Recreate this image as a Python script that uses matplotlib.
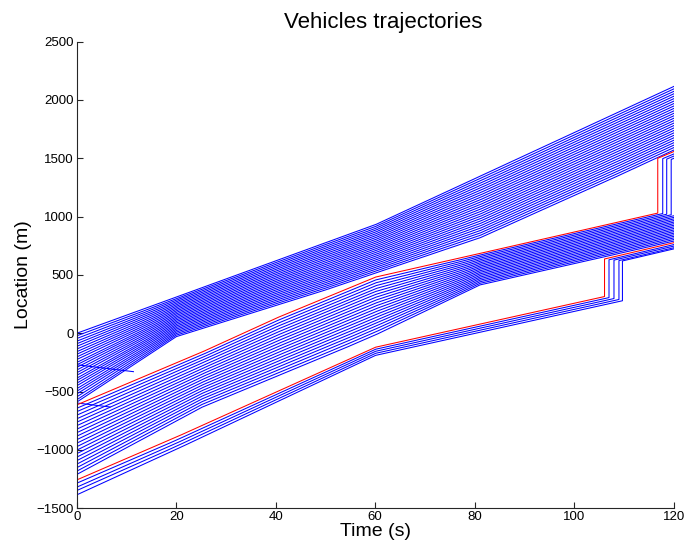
import numpy as np
import matplotlib
matplotlib.use("Agg")
import matplotlib.pyplot as plt

# ---------------- data ----------------
# Top platoon (all blue)
top_start = [0, -22, -45, -68, -90, -112, -135, -158, -180, -203,
             -225, -250, -270, -292, -315, -338, -360, -385, -405, -428,
             -450, -475, -497, -520, -545, -570, -590]
top_conv = 18
top_lead_t = [0, 60, 120]
top_lead_y = [0, 930, 2115]
top_tail_t = [0, 20, 49, 81, 107, 120]
top_tail_y = [-585, -29, 357, 817, 1314, 1570]

# Middle platoon (leader red)
mid_start = [-614, -643, -672, -702, -733, -762, -792, -822, -852, -882,
             -912, -942, -972, -1002, -1032, -1062, -1092, -1122, -1152,
             -1182, -1210]
mid_conv = 25
mid_lead_t = [0, 20, 40, 60, 120]
mid_lead_y = [-614, -262, 128, 481, 1061]
mid_tail_t = [0, 20, 53, 60, 81, 106, 120]
mid_tail_y = [-1215, -725, -143, -15, 414, 655, 790]
mid_jump_t = [116.8, 117.8, 118.6, 119.5]
mid_land_y = [1500, 1497, 1493, 1490]
mid_post_v = 17.8

# Bottom platoon (leader red)
bot_start = [-1257, -1285, -1319, -1348, -1385]
bot_conv = 15
bot_lead_t = [0, 20, 60, 120]
bot_lead_y = [-1257, -890, -120, 446]
bot_tail_t = [0, 20, 60, 120]
bot_tail_y = [-1385, -995, -190, 376]
bot_jump_t = [106.1, 107.0, 108.0, 109.0, 109.7]
bot_land_y = [637, 630, 627, 623, 620]
bot_post_v = 10.0

# short stray segments at the start
stray_t0 = [0, 0]
stray_y0 = [-270, -597]
stray_t1 = [11.4, 6.7]
stray_y1 = [-329, -632]

x_ticks = [0, 20, 40, 60, 80, 100, 120]
y_ticks = [-1500, -1000, -500, 0, 500, 1000, 1500, 2000, 2500]

# ---------------- helpers ----------------
T = np.linspace(0, 120, 4801)


def band(start, conv, lt, ly, tt, ty):
    n = len(start)
    lead = np.interp(T, lt, ly)
    tail = np.interp(T, tt, ty)
    fr = np.linspace(0, 1, n)
    out = []
    for k in range(n):
        b = lead + fr[k] * (tail - lead)
        bc = np.interp(conv, T, b)
        early = T < conv
        y = b.copy()
        y[early] = start[k] + (bc - start[k]) * T[early] / conv
        out.append(y)
    return out


def with_jump(y, tj, land, v):
    pre = T < tj
    yj = np.interp(tj, T, y)
    tt = np.concatenate([T[pre], [tj, tj], T[~pre]])
    yy = np.concatenate([y[pre], [yj, land], land + v * (T[~pre] - tj)])
    return tt, yy


plt.rcParams['font.family'] = ['Liberation Sans', 'DejaVu Sans']
fig = plt.figure(figsize=(6.87, 5.51), dpi=100)
ax = fig.add_axes([0.1117, 0.0775, 0.8689, 0.847])

lw = 0.75
blue = (0, 0, 1)
red = (1, 0, 0)
reds = []

for y in band(top_start, top_conv, top_lead_t, top_lead_y, top_tail_t, top_tail_y):
    ax.plot(T, y, color=blue, lw=lw)

mids = band(mid_start, mid_conv, mid_lead_t, mid_lead_y, mid_tail_t, mid_tail_y)
for k, y in enumerate(mids):
    if k < len(mid_jump_t):
        tt, yy = with_jump(y, mid_jump_t[k], mid_land_y[k], mid_post_v)
    else:
        tt, yy = T, y
    if k == 0:
        reds.append((tt, yy))
    else:
        ax.plot(tt, yy, color=blue, lw=lw)

bots = band(bot_start, bot_conv, bot_lead_t, bot_lead_y, bot_tail_t, bot_tail_y)
for k, y in enumerate(bots):
    tt, yy = with_jump(y, bot_jump_t[k], bot_land_y[k], bot_post_v)
    if k == 0:
        reds.append((tt, yy))
    else:
        ax.plot(tt, yy, color=blue, lw=lw)

for a, b, c, d in zip(stray_t0, stray_y0, stray_t1, stray_y1):
    ax.plot([a, c], [b, d], color=blue, lw=lw)

for tt, yy in reds:
    ax.plot(tt, yy, color=red, lw=lw)

ax.set_xlim(0, 120)
ax.set_ylim(-1500, 2500)
ax.set_xticks(x_ticks)
ax.set_yticks(y_ticks)
for s in ['top', 'right']:
    ax.spines[s].set_visible(False)
for s in ['left', 'bottom']:
    ax.spines[s].set_color('#262626')
    ax.spines[s].set_linewidth(0.8)
ax.tick_params(direction='in', length=4.5, width=0.8, labelsize=9.5,
               colors='#262626', labelcolor='black', pad=2)
ax.set_title('Vehicles trajectories', fontsize=16, x=0.513, pad=10)
ax.set_xlabel('Time (s)', fontsize=14, labelpad=0)
ax.set_ylabel('Location (m)', fontsize=14, labelpad=3)

fig.savefig('out.png', dpi=100)
